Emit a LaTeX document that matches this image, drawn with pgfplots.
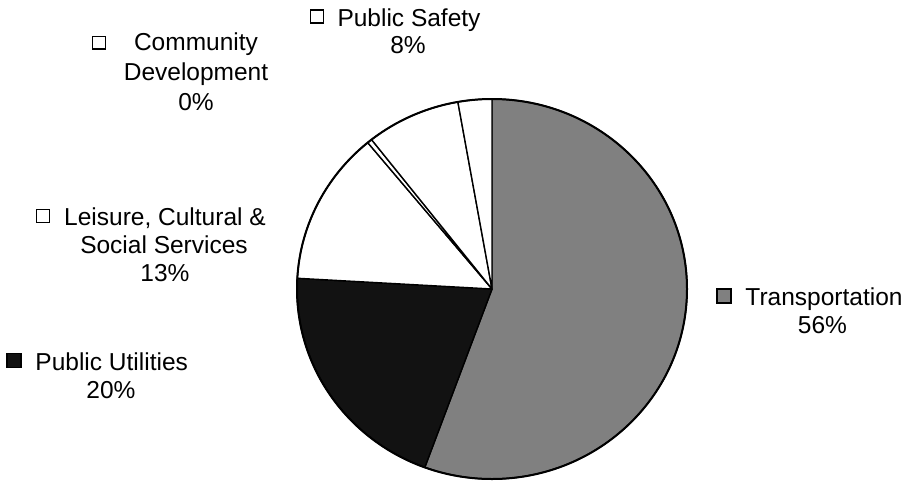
\documentclass[border=0pt]{standalone}
\usepackage{pgfplots}
\pgfplotsset{compat=1.18}
\usepackage{pgfplotstable}
\usepackage{fontspec}
\setmainfont{Liberation Sans}

% Share of spending by function, in percent, clockwise from 12 o'clock
\pgfplotstableread{
share
55.6
20.3
13.1
0.4
7.8
2.8
}\sharetable

% Start and end angle of every slice (clockwise from the top)
\def\cum{0}%
\pgfplotsforeachungrouped \i in {0,...,5}{%
  \pgfplotstablegetelem{\i}{share}\of\sharetable
  \pgfmathsetmacro\angstart{90-3.6*\cum}%
  \pgfmathsetmacro\cum{\cum+\pgfplotsretval}%
  \pgfmathsetmacro\angend{90-3.6*\cum}%
  \expandafter\xdef\csname sliceA\i\endcsname{\angstart}%
  \expandafter\xdef\csname sliceB\i\endcsname{\angend}%
}

\definecolor{transp}{gray}{0.50}
\newcommand\lab{\fontsize{24.5bp}{28bp}\selectfont}
\newcommand\pieslice[2]{%
  \filldraw[#2, draw=black, line width=1.4bp, line join=round]
    (axis cs:492,289) -- ++(\csname sliceA#1\endcsname:195bp and 190bp)
    arc[start angle=\csname sliceA#1\endcsname,
        end angle=\csname sliceB#1\endcsname,
        x radius=195bp, y radius=190bp] -- cycle;}

\begin{document}
\begin{tikzpicture}
\begin{axis}[
  width=911bp, height=486bp, scale only axis,
  xmin=0, xmax=911, ymin=0, ymax=486, y dir=reverse,
  enlargelimits=false, hide axis, clip=false]
  \path (rel axis cs:0,0) rectangle (rel axis cs:1,1);

  % slices
  \pieslice{0}{fill=transp}
  \pieslice{1}{fill=black!93}
  \pieslice{2}{fill=white}
  \pieslice{3}{fill=white}
  \pieslice{4}{fill=white}
  \pieslice{5}{fill=white}
  \draw[line width=2bp] (axis cs:492,289) ellipse [x radius=195bp, y radius=190bp];

  % labels with their keys
  \filldraw[fill=white, line width=1.6bp] (axis cs:310.5,10) rectangle (axis cs:323.5,23);
  \node[anchor=base, font=\lab, inner sep=0pt] at (axis cs:409,26.5) {Public Safety};
  \node[anchor=base, font=\lab, inner sep=0pt] at (axis cs:408,53.5) {8\%};

  \filldraw[fill=white, line width=1.6bp] (axis cs:92.5,36.5) rectangle (axis cs:105.5,49);
  \node[anchor=base, font=\lab, inner sep=0pt] at (axis cs:196,50) {Community};
  \node[anchor=base, font=\lab, inner sep=0pt] at (axis cs:196,80.5) {Development};
  \node[anchor=base, font=\lab, inner sep=0pt] at (axis cs:196,110) {0\%};

  \filldraw[fill=white, line width=1.6bp] (axis cs:36.5,209.5) rectangle (axis cs:49.5,222.5);
  \node[anchor=base, font=\lab, inner sep=0pt] at (axis cs:165,225) {Leisure, Cultural \&};
  \node[anchor=base, font=\lab, inner sep=0pt] at (axis cs:164,253.3) {Social Services};
  \node[anchor=base, font=\lab, inner sep=0pt] at (axis cs:165,281.7) {13\%};

  \filldraw[fill=black!93, line width=1.6bp] (axis cs:7,353.5) rectangle (axis cs:21,367.5);
  \node[anchor=base, font=\lab, inner sep=0pt] at (axis cs:111.7,370) {Public Utilities};
  \node[anchor=base, font=\lab, inner sep=0pt] at (axis cs:111,398.3) {20\%};

  \filldraw[fill=transp, line width=1.6bp] (axis cs:717,289) rectangle (axis cs:731,303);
  \node[anchor=base, font=\lab, inner sep=0pt] at (axis cs:824,305) {Transportation};
  \node[anchor=base, font=\lab, inner sep=0pt] at (axis cs:822.5,333.3) {56\%};
\end{axis}
\end{tikzpicture}
\end{document}
